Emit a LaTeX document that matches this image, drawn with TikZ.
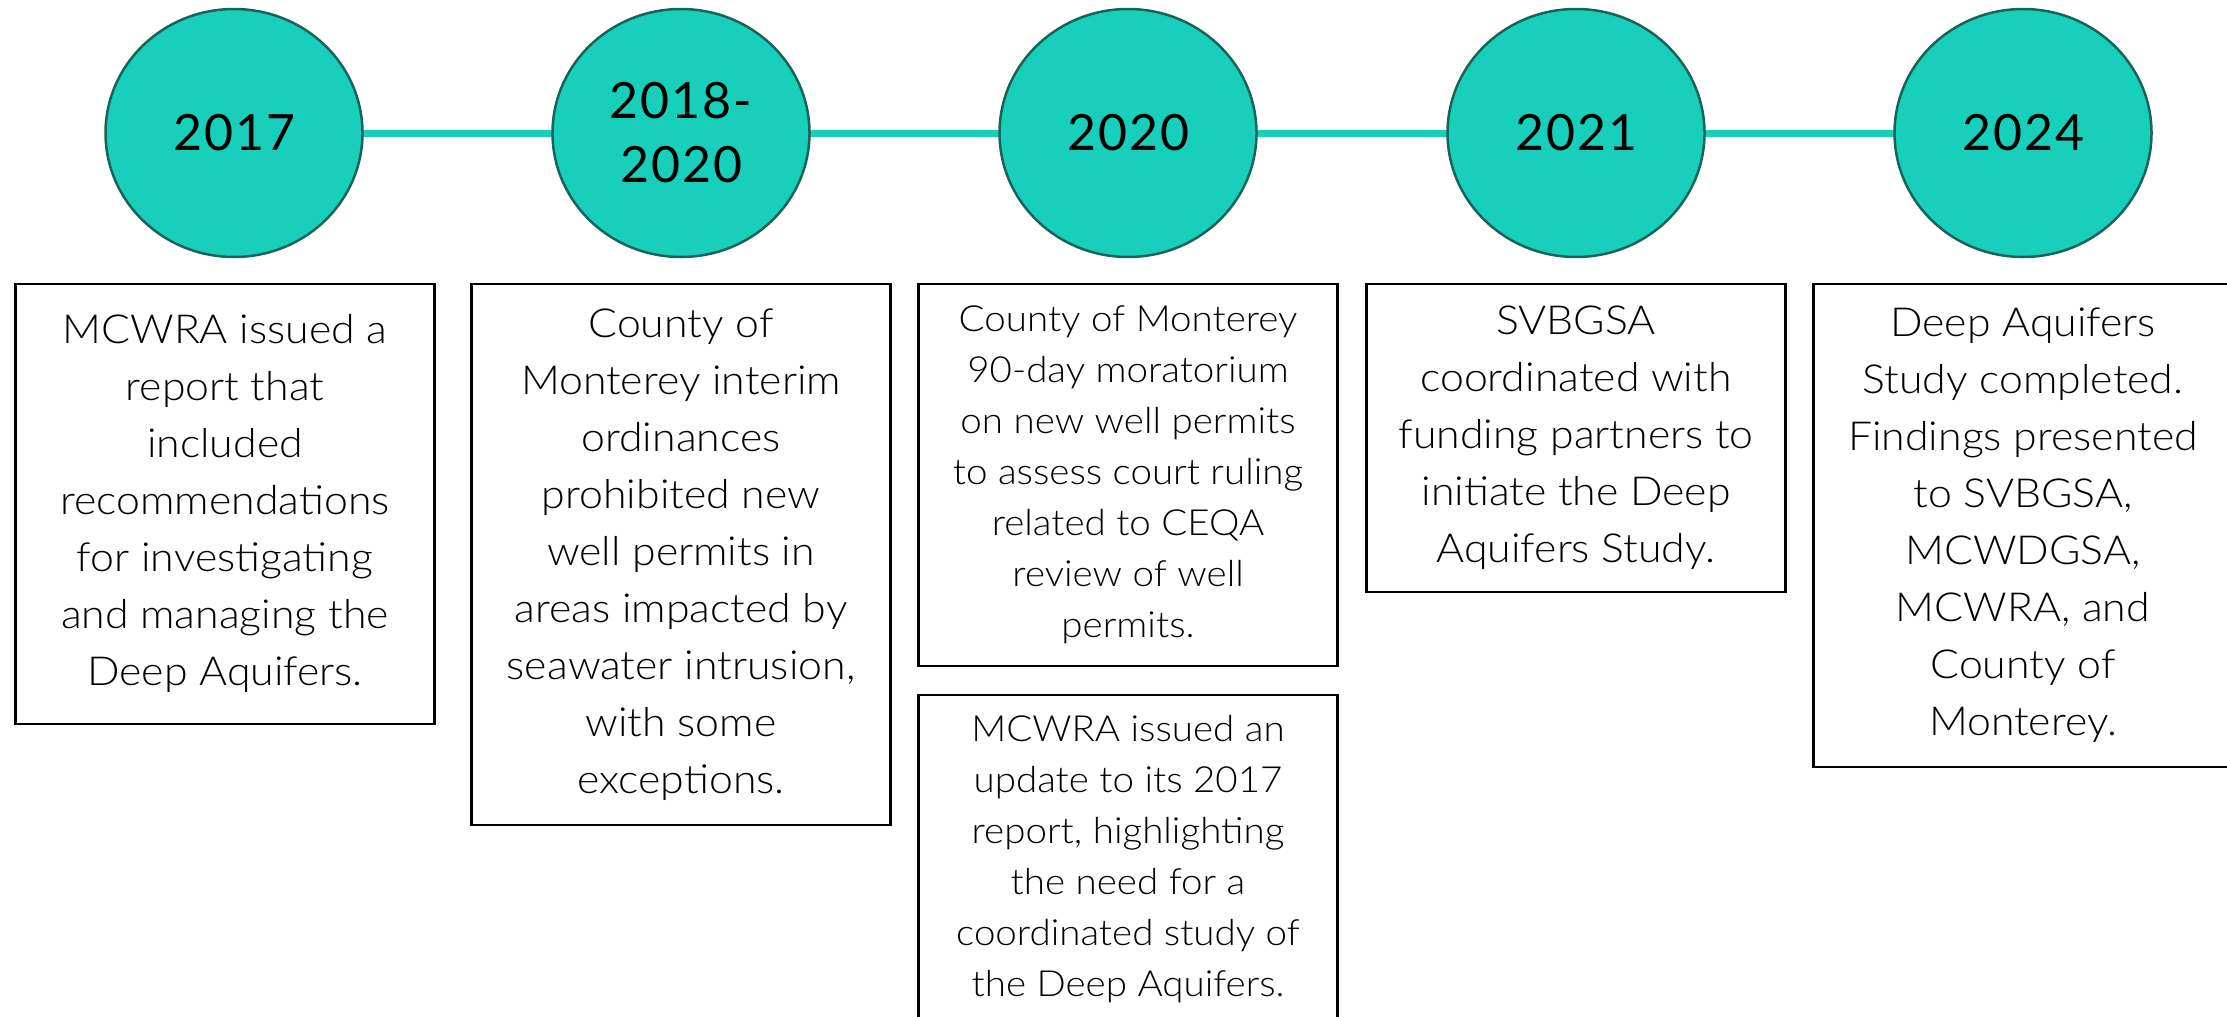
\documentclass[tikz,border=0pt]{standalone}
\usepackage{fontspec}
\setmainfont{Lato}[UprightFont={* Light}, FakeStretch=1.07]
\newfontfamily\yearfont{Lato}[LetterSpace=4]
\usetikzlibrary{shapes.geometric}
\definecolor{tealfill}{RGB}{23,207,187}
\definecolor{tealdark}{RGB}{24,100,90}
\begin{document}
\begin{tikzpicture}[x=1pt,y=-1pt,
  year/.style={ellipse, draw=tealdark, line width=2.5pt, fill=tealfill,
    minimum width=257pt, minimum height=248pt, inner sep=0pt, align=center,
    font=\yearfont\fontsize{50}{64}\selectfont},
  event/.style={draw=black, line width=2.5pt, anchor=north,
    minimum width=419pt, align=center, inner sep=0pt},
  big/.style={font=\fontsize{40}{57}\selectfont},
  small/.style={font=\fontsize{36}{51}\selectfont},
  link/.style={draw=tealfill, line width=7pt}]
\useasboundingbox (0,0) rectangle (2227,1017);
% timeline connectors (drawn first, behind circles)
\coordinate (p1) at (234,133);
\coordinate (p2) at (681,133);
\coordinate (p3) at (1128,133);
\coordinate (p4) at (1576,133);
\coordinate (p5) at (2023,133);
\draw[link] (p1) -- (p2) -- (p3) -- (p4) -- (p5);
% year circles
\node[year] (y1) at (p1) {2017};
\node[year] (y2) at (p2) {2018-\\2020};
\node[year] (y3) at (p3) {2020};
\node[year] (y4) at (p4) {2021};
\node[year] (y5) at (p5) {2024};
% event boxes
\node[event,big,minimum height=440pt] (b1) at (225,282.5)
  {MCWRA issued a\\report that\\included\\recommendations\\for investigating\\and managing the\\Deep Aquifers.};
\node[event,big,minimum height=541pt] (b2) at (681,282.5)
  {County of\\Monterey interim\\ordinances\\prohibited new\\well permits in\\areas impacted by\\seawater intrusion,\\with some\\exceptions.};
\node[event,small,minimum height=382pt] (b3) at (1128,282.5)
  {County of Monterey\\90-day moratorium\\on new well permits\\to assess court ruling\\related to CEQA\\review of well\\permits.};
\node[event,small,minimum height=328pt] (b4) at (1128,693.5)
  {MCWRA issued an\\update to its 2017\\report, highlighting\\the need for a\\coordinated study of\\the Deep Aquifers.};
\node[event,big,minimum height=308pt] (b5) at (1576,282.5)
  {SVBGSA\\coordinated with\\funding partners to\\initiate the Deep\\Aquifers Study.};
\node[event,big,minimum height=483pt] (b6) at (2023,282.5)
  {Deep Aquifers\\Study completed.\\Findings presented\\to SVBGSA,\\MCWDGSA,\\MCWRA, and\\County of\\Monterey.};
\end{tikzpicture}
\end{document}
